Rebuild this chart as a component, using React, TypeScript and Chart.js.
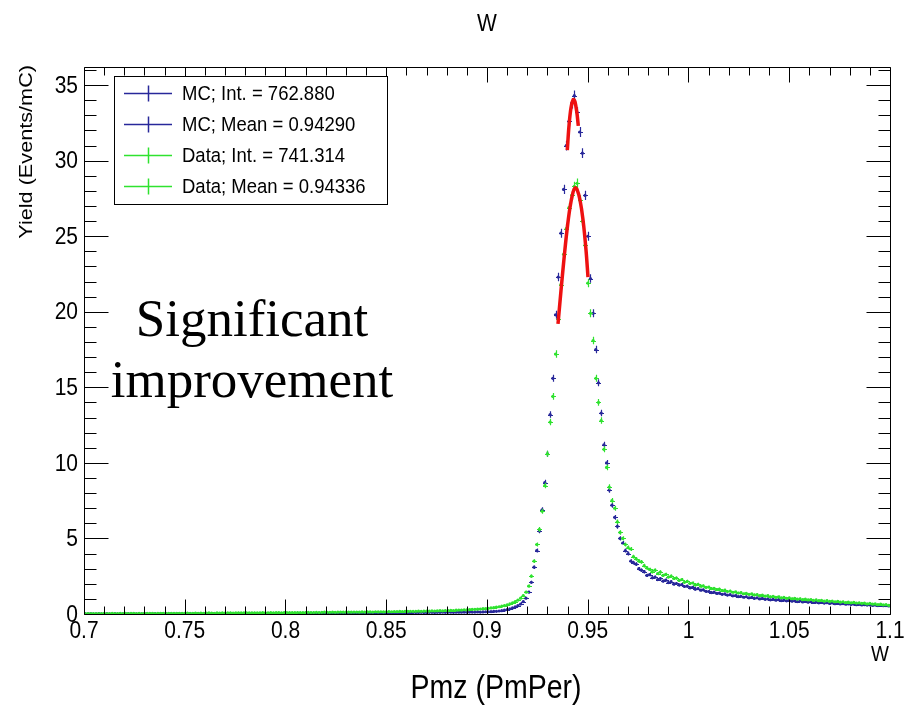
import { useEffect, useRef } from "react";
import { Chart, registerables } from "chart.js";

Chart.register(...registerables);

const X_MIN = 0.7;
const X_MAX = 1.1;
const N_BINS = 300;
const Y_MIN = 0;
const Y_MAX = 36.2;

const X_TICKS = [0.7, 0.75, 0.8, 0.85, 0.9, 0.95, 1.0, 1.05, 1.1];
const X_TICK_LABELS = ["0.7", "0.75", "0.8", "0.85", "0.9", "0.95", "1", "1.05", "1.1"];
const Y_TICKS = [0, 5, 10, 15, 20, 25, 30, 35];
const Y_TICK_LABELS = ["0", "5", "10", "15", "20", "25", "30", "35"];

const TITLE = "W";
const X_TITLE = "Pmz (PmPer)";
const X_UNIT = "W";
const Y_TITLE = "Yield (Events/mC)";
const NOTE_LINES = ["Significant", "improvement"];

const MC_COLOR = "#28289a";
const DATA_COLOR = "#2fe22f";
const FIT_COLOR = "#ee1111";

const LEGEND_LABELS = [
  "MC; Int. = 762.880",
  "MC; Mean = 0.94290",
  "Data; Int. = 741.314",
  "Data; Mean = 0.94336",
];
const LEGEND_COLORS = [MC_COLOR, MC_COLOR, DATA_COLOR, DATA_COLOR];

// MC histogram contents, 300 bins from 0.7 to 1.1
const MC_VALUES = [
  0.01, 0.01, 0.02, 0.01, 0.01, 0.02, 0.01, 0.01, 0.02, 0.01, 0.01, 0.02, 0.01, 0.02, 0.01, 0.01, 0.02, 0.01, 0.02, 0.01,
  0.02, 0.01, 0.02, 0.02, 0.01, 0.02, 0.02, 0.01, 0.02, 0.02, 0.02, 0.01, 0.02, 0.02, 0.03, 0.02, 0.02, 0.03, 0.02, 0.02,
  0.03, 0.02, 0.02, 0.03, 0.02, 0.03, 0.03, 0.02, 0.03, 0.03, 0.02, 0.03, 0.03, 0.03, 0.04, 0.03, 0.03, 0.04, 0.03, 0.03,
  0.04, 0.03, 0.04, 0.04, 0.03, 0.04, 0.04, 0.04, 0.05, 0.04, 0.04, 0.05, 0.04, 0.05, 0.05, 0.04, 0.05, 0.05, 0.05, 0.06,
  0.05, 0.05, 0.06, 0.05, 0.06, 0.06, 0.05, 0.06, 0.06, 0.06, 0.07, 0.06, 0.06, 0.07, 0.06, 0.07, 0.07, 0.07, 0.08, 0.07,
  0.07, 0.08, 0.07, 0.08, 0.08, 0.07, 0.08, 0.08, 0.09, 0.08, 0.08, 0.09, 0.09, 0.08, 0.09, 0.09, 0.1, 0.09, 0.09, 0.1,
  0.1, 0.09, 0.1, 0.1, 0.1, 0.11, 0.1, 0.1, 0.11, 0.11, 0.1, 0.11, 0.11, 0.12, 0.11, 0.12, 0.12, 0.11, 0.12, 0.12,
  0.12, 0.13, 0.12, 0.13, 0.13, 0.13, 0.14, 0.13, 0.14, 0.15, 0.15, 0.16, 0.17, 0.18, 0.2, 0.22, 0.25, 0.29, 0.34, 0.4,
  0.47, 0.55, 0.66, 0.82, 1.05, 1.45, 2.1, 3.1, 4.2, 5.5, 6.9, 8.7,
  10.6, 13.2, 15.6, 19.8, 22.3, 25.2, 28.1, 31.0, 32.6, 33.8, 34.3, 33.2, 31.9, 30.5, 27.7, 25.0, 22.2, 19.9, 17.5, 15.3,
  13.3, 11.2, 10.0, 8.2, 7.2, 6.4, 5.8, 5.0, 4.7, 4.2, 4.0, 3.5, 3.4, 3.3, 3.0, 2.9, 2.8, 2.55, 2.6,
  2.4, 2.45, 2.28, 2.35, 2.18, 2.25, 2.08, 2.14, 1.98, 2.02,
  1.92, 1.95, 1.82, 1.84, 1.73, 1.76, 1.64, 1.68, 1.58, 1.6,
  1.5, 1.49, 1.42, 1.45, 1.36, 1.38, 1.3, 1.33, 1.25, 1.28,
  1.2, 1.22, 1.15, 1.18, 1.11, 1.14, 1.07, 1.1, 1.03, 1.07,
  1.0, 1.03, 0.97, 1.0, 0.94, 0.97, 0.91, 0.95, 0.89, 0.92,
  0.87, 0.9, 0.85, 0.87, 0.82, 0.86, 0.8, 0.84, 0.78, 0.81,
  0.76, 0.79, 0.74, 0.77, 0.72, 0.75, 0.7, 0.73, 0.68, 0.71,
  0.67, 0.69, 0.65, 0.67, 0.63, 0.66, 0.62, 0.64, 0.6, 0.62,
  0.59, 0.61, 0.57, 0.59, 0.56, 0.58, 0.55, 0.56, 0.53,
];

// Data histogram contents, 300 bins from 0.7 to 1.1
const DATA_VALUES = [
  0.02, 0.03, 0.02, 0.03, 0.03, 0.02, 0.03, 0.04, 0.03, 0.03, 0.04, 0.02, 0.03, 0.04, 0.03, 0.04, 0.03, 0.04, 0.04, 0.03,
  0.04, 0.03, 0.04, 0.04, 0.05, 0.04, 0.03, 0.04, 0.05, 0.04, 0.05, 0.05, 0.04, 0.05, 0.04, 0.05, 0.05, 0.04, 0.06, 0.05,
  0.05, 0.06, 0.05, 0.06, 0.05, 0.06, 0.07, 0.06, 0.05, 0.07, 0.06, 0.07, 0.06, 0.07, 0.07, 0.06, 0.08, 0.07, 0.07, 0.08,
  0.07, 0.08, 0.07, 0.08, 0.08, 0.07, 0.09, 0.08, 0.08, 0.09, 0.08, 0.09, 0.09, 0.08, 0.1, 0.09, 0.09, 0.1, 0.09, 0.1,
  0.1, 0.09, 0.1, 0.11, 0.1, 0.1, 0.11, 0.1, 0.11, 0.12, 0.11, 0.11, 0.12, 0.11, 0.12, 0.13, 0.12, 0.12, 0.13, 0.12,
  0.13, 0.13, 0.12, 0.14, 0.13, 0.14, 0.14, 0.13, 0.15, 0.14, 0.15, 0.14, 0.15, 0.16, 0.15, 0.16, 0.16, 0.17, 0.16, 0.17,
  0.17, 0.18, 0.17, 0.18, 0.19, 0.18, 0.19, 0.2, 0.19, 0.21, 0.2, 0.21, 0.22, 0.21, 0.23, 0.22, 0.24, 0.23, 0.25, 0.26,
  0.26, 0.28, 0.27, 0.29, 0.3, 0.31, 0.32, 0.33, 0.35, 0.36, 0.38, 0.4, 0.42, 0.45, 0.48, 0.52, 0.56, 0.61, 0.67, 0.74,
  0.82, 0.92, 1.05, 1.22, 1.45, 1.85, 2.5, 3.5, 4.6, 5.6, 6.8, 8.5,
  10.6, 12.7, 14.4, 17.2, 19.5, 21.8, 23.8, 25.5, 26.9, 27.7, 28.3, 28.5, 27.4, 26.0, 24.4, 21.9, 19.9, 18.1, 15.6, 14.0,
  12.8, 10.9, 9.7, 8.4, 7.5, 7.0, 6.1, 5.4, 5.0, 4.6, 4.4, 4.3, 3.8, 3.65, 3.5, 3.45, 3.2, 3.05, 2.95,
  2.8, 2.9, 2.68, 2.78, 2.55, 2.62, 2.45, 2.5, 2.35, 2.38,
  2.22, 2.28, 2.1, 2.16, 2.02, 2.05, 1.92, 1.97, 1.84, 1.86,
  1.76, 1.78, 1.68, 1.7, 1.62, 1.64, 1.55, 1.58, 1.49, 1.52,
  1.44, 1.46, 1.39, 1.42, 1.34, 1.37, 1.3, 1.33, 1.26, 1.29,
  1.22, 1.25, 1.18, 1.21, 1.14, 1.17, 1.1, 1.14, 1.07, 1.1,
  1.04, 1.07, 1.01, 1.04, 0.98, 1.01, 0.95, 0.98, 0.93, 0.96,
  0.9, 0.93, 0.88, 0.91, 0.85, 0.88, 0.83, 0.86, 0.81, 0.84,
  0.78, 0.81, 0.76, 0.79, 0.74, 0.77, 0.72, 0.74, 0.7, 0.72,
  0.67, 0.7, 0.65, 0.67, 0.62, 0.65, 0.6, 0.62, 0.57,
];

// Fit curves
const MC_FIT_X = [0.93985, 0.94069, 0.94169, 0.94283, 0.94367, 0.94467, 0.94531];
const MC_FIT_Y = [30.7, 32.3, 33.5, 34.05, 33.9, 33.1, 32.3];
const DATA_FIT_X = [0.93524, 0.93672, 0.93821, 0.9397, 0.94119, 0.94268, 0.94367, 0.94467, 0.94615, 0.94764, 0.94913, 0.95012];
const DATA_FIT_Y = [19.2, 21.4, 23.5, 25.4, 26.9, 27.9, 28.2, 28.1, 27.4, 26.1, 24.1, 22.3];

const FONT = "'Liberation Sans', Arial, Helvetica, sans-serif";
const SERIF = "'Liberation Serif', 'Times New Roman', serif";
const STRETCH = 1.14;

const BIN_W = (X_MAX - X_MIN) / N_BINS;
const BIN_CENTERS = MC_VALUES.map((_, i) => X_MIN + (i + 0.5) * BIN_W);

function histPoints(vals: number[]) {
  return vals.map((v, i) => ({ x: BIN_CENTERS[i], y: v }));
}
function errs(vals: number[]) {
  return vals.map((v) => 0.055 * Math.sqrt(v) + 0.02);
}
function fitPoints(xs: number[], ys: number[]) {
  return xs.map((x, i) => ({ x, y: ys[i] }));
}

function stretchedText(ctx: CanvasRenderingContext2D, text: string, x: number, y: number, rot = 0) {
  ctx.save();
  ctx.translate(x, y);
  if (rot) {
    ctx.rotate(rot);
    ctx.scale(STRETCH, 1);
  } else {
    ctx.scale(1, STRETCH);
  }
  ctx.fillText(text, 0, 0);
  ctx.restore();
}

const rootPlugin = {
  id: "rootStyle",
  afterDatasetDraw(chart: any, args: any) {
    const ds = chart.data.datasets[args.index];
    if (!ds.errorBars) return;
    const ctx = chart.ctx;
    const ys = chart.scales.y;
    const a = chart.chartArea;
    ctx.save();
    ctx.beginPath();
    ctx.rect(a.left, a.top, a.right - a.left, a.bottom - a.top);
    ctx.clip();
    ctx.strokeStyle = ds.borderColor;
    ctx.lineWidth = 1.2;
    ctx.beginPath();
    args.meta.data.forEach((el: any, i: number) => {
      const v = ds.data[i].y;
      const e = ds.errors[i];
      const px = Math.round(el.x) + 0.5;
      const py = Math.round(el.y) + 0.5;
      ctx.moveTo(px, ys.getPixelForValue(v + e));
      ctx.lineTo(px, ys.getPixelForValue(v - e));
      ctx.moveTo(px - 2.5, py);
      ctx.lineTo(px + 2.5, py);
    });
    ctx.stroke();
    ctx.restore();
  },
  afterDatasetsDraw(chart: any) {
    const ctx = chart.ctx;
    const a = chart.chartArea;
    const xs = chart.scales.x;
    const ys = chart.scales.y;
    const L = Math.round(a.left) + 0.5;
    const R = Math.round(a.right) + 0.5;
    const T = Math.round(a.top) + 0.5;
    const B = Math.round(a.bottom) + 0.5;
    ctx.save();
    ctx.strokeStyle = "#000";
    ctx.lineWidth = 1;
    ctx.beginPath();
    ctx.rect(L, T, R - L, B - T);
    for (let k = 0; k <= 40; k++) {
      const px = Math.round(xs.getPixelForValue(X_MIN + k * 0.01)) + 0.5;
      const len = k % 5 === 0 ? 15 : 8;
      ctx.moveTo(px, B);
      ctx.lineTo(px, B - len);
      ctx.moveTo(px, T);
      ctx.lineTo(px, T + len);
    }
    for (let k = 0; k <= 36; k++) {
      const py = Math.round(ys.getPixelForValue(k)) + 0.5;
      const len = k % 5 === 0 ? 24 : 12;
      ctx.moveTo(L, py);
      ctx.lineTo(L + len, py);
      ctx.moveTo(R, py);
      ctx.lineTo(R - len, py);
    }
    ctx.stroke();

    ctx.fillStyle = "#000";
    ctx.font = `21px ${FONT}`;
    ctx.textBaseline = "middle";
    ctx.textAlign = "center";
    X_TICKS.forEach((v, i) => {
      stretchedText(ctx, X_TICK_LABELS[i], xs.getPixelForValue(v), a.bottom + 17);
    });
    ctx.textAlign = "right";
    Y_TICKS.forEach((v, i) => {
      stretchedText(ctx, Y_TICK_LABELS[i], a.left - 6, ys.getPixelForValue(v) + 1);
    });
    ctx.restore();
  },
  afterDraw(chart: any) {
    const ctx = chart.ctx;
    const a = chart.chartArea;
    ctx.save();
    ctx.fillStyle = "#000";
    ctx.textBaseline = "alphabetic";
    ctx.textAlign = "center";
    ctx.font = `21px ${FONT}`;
    stretchedText(ctx, TITLE, (a.left + a.right) / 2, 31);
    ctx.font = `28.5px ${FONT}`;
    stretchedText(ctx, X_TITLE, 496, 698);
    ctx.font = `19px ${FONT}`;
    ctx.textAlign = "right";
    stretchedText(ctx, X_UNIT, a.right - 1, 661);
    ctx.font = `19px ${FONT}`;
    ctx.textAlign = "right";
    stretchedText(ctx, Y_TITLE, 32, a.top - 2, -Math.PI / 2);

    const bx = 114.5, by = 76.5, bw = 273, bh = 128;
    ctx.fillStyle = "#fff";
    ctx.fillRect(bx, by, bw, bh);
    ctx.strokeStyle = "#000";
    ctx.lineWidth = 1;
    ctx.strokeRect(bx, by, bw, bh);
    ctx.font = `18.5px ${FONT}`;
    ctx.textAlign = "left";
    ctx.textBaseline = "middle";
    LEGEND_LABELS.forEach((lab, i) => {
      const cy = Math.round(93 + i * 31) + 0.5;
      ctx.strokeStyle = LEGEND_COLORS[i];
      ctx.lineWidth = 1.5;
      ctx.beginPath();
      ctx.moveTo(124, cy);
      ctx.lineTo(172, cy);
      ctx.moveTo(148.5, cy - 8);
      ctx.lineTo(148.5, cy + 8);
      ctx.stroke();
      ctx.fillStyle = "#000";
      stretchedText(ctx, lab, 182, cy + 1);
    });

    ctx.fillStyle = "#000";
    ctx.font = `53px ${SERIF}`;
    ctx.textAlign = "center";
    ctx.textBaseline = "alphabetic";
    ctx.fillText(NOTE_LINES[0], 252, 336);
    ctx.fillText(NOTE_LINES[1], 252, 397);
    ctx.restore();
  },
};

export default function App() {
  const ref = useRef<HTMLCanvasElement | null>(null);
  useEffect(() => {
    document.body.style.margin = "0";
    if (!ref.current) return;
    const chart = new Chart(ref.current, {
      type: "scatter",
      data: {
        datasets: [
          {
            label: "Data fit",
            data: fitPoints(DATA_FIT_X, DATA_FIT_Y),
            showLine: true,
            borderColor: FIT_COLOR,
            borderWidth: 3.5,
            pointRadius: 0,
            tension: 0.35,
          },
          {
            label: "MC fit",
            data: fitPoints(MC_FIT_X, MC_FIT_Y),
            showLine: true,
            borderColor: FIT_COLOR,
            borderWidth: 3.5,
            pointRadius: 0,
            tension: 0.35,
          },
          {
            label: "Data",
            data: histPoints(DATA_VALUES),
            errorBars: true,
            errors: errs(DATA_VALUES),
            borderColor: DATA_COLOR,
            backgroundColor: DATA_COLOR,
            pointRadius: 1.6,
            pointBorderWidth: 0,
          } as any,
          {
            label: "MC",
            data: histPoints(MC_VALUES),
            errorBars: true,
            errors: errs(MC_VALUES),
            borderColor: MC_COLOR,
            backgroundColor: MC_COLOR,
            pointRadius: 1.6,
            pointBorderWidth: 0,
          } as any,
        ],
      },
      options: {
        responsive: false,
        animation: false,
        layout: { padding: { left: 0, right: 14, top: 67, bottom: 0 } },
        plugins: { legend: { display: false }, tooltip: { enabled: false }, title: { display: false } },
        scales: {
          x: {
            type: "linear",
            min: X_MIN,
            max: X_MAX,
            grid: { display: false, drawTicks: false },
            border: { display: false },
            ticks: { display: false },
            afterFit: (s: any) => {
              s.height = 97;
              s.paddingLeft = 0;
              s.paddingRight = 0;
            },
          },
          y: {
            type: "linear",
            min: Y_MIN,
            max: Y_MAX,
            grid: { display: false, drawTicks: false },
            border: { display: false },
            ticks: { display: false },
            afterFit: (s: any) => {
              s.width = 84;
              s.paddingTop = 0;
              s.paddingBottom = 0;
            },
          },
        },
      },
      plugins: [rootPlugin],
    } as any);
    return () => chart.destroy();
  }, []);
  return (
    <div style={{ width: 904, height: 711, background: "#fff" }}>
      <canvas ref={ref} width={904} height={711} style={{ display: "block" }} />
    </div>
  );
}
